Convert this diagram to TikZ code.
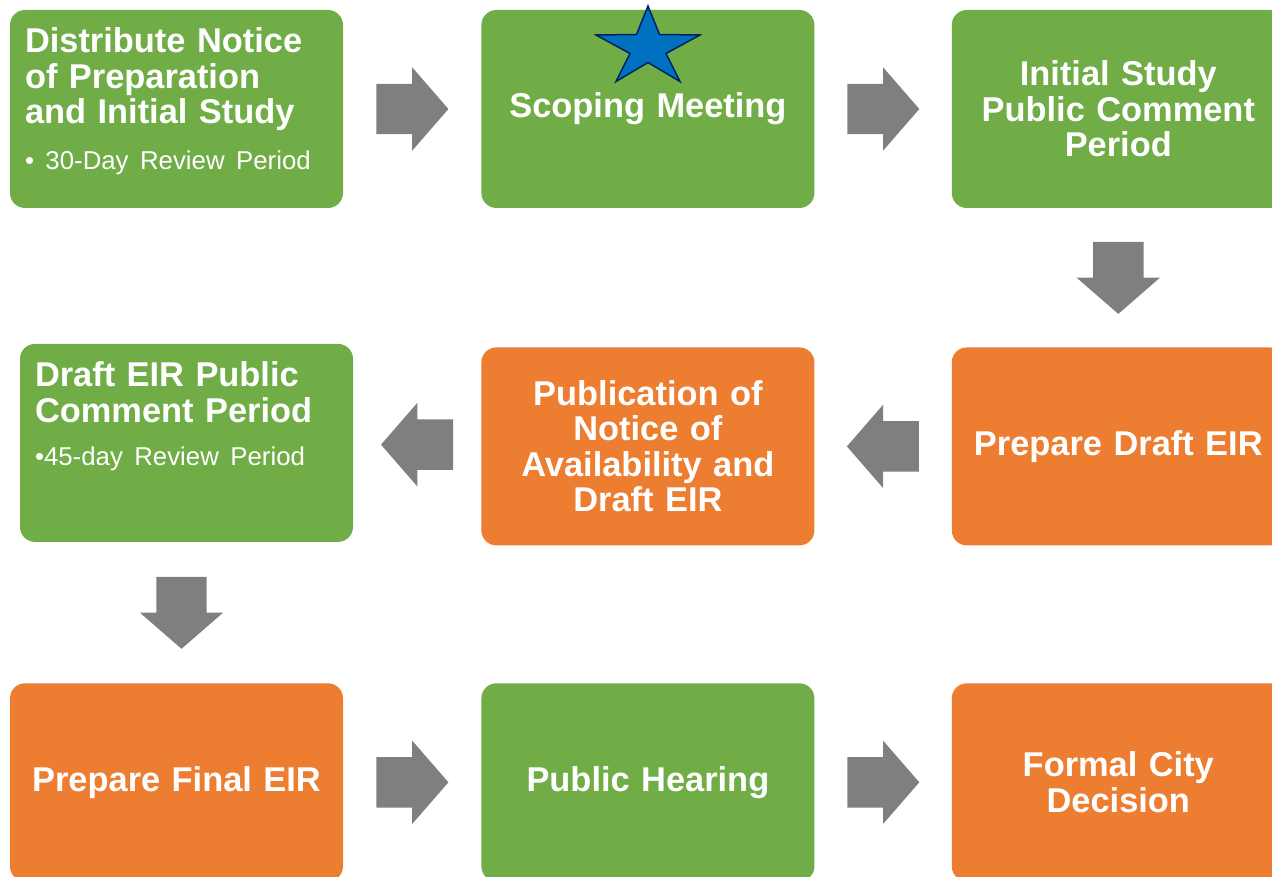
\documentclass[tikz,border=0pt]{standalone}
\usepackage{fontspec}
\setmainfont{Liberation Sans}
\usepackage{xcolor}
\usepackage{tikz}
\definecolor{ceqagreen}{HTML}{70AD47}
\definecolor{ceqaorange}{HTML}{ED7D31}
\definecolor{flowgray}{HTML}{7F7F7F}
\definecolor{starblue}{HTML}{0070C0}
\definecolor{starline}{HTML}{002060}
\tikzstyle{stage} = [rectangle, rounded corners=15pt, text=white,
    text width=303pt, inner xsep=15pt, inner ysep=0pt, minimum height=198pt,
    align=center, font=\fontsize{34.4}{35.5}\selectfont\bfseries]
\tikzstyle{greenstage} = [stage, fill=ceqagreen]
\tikzstyle{orangestage} = [stage, fill=ceqaorange]
\tikzstyle{notestage} = [greenstage, align=left, text height=43pt, text depth=155pt]
\tikzstyle{flow} = [single arrow, fill=flowgray, draw=none, inner sep=0pt,
    text height=25pt, text depth=25pt, minimum width=83pt, minimum height=72pt,
    single arrow head extend=16.5pt, single arrow tip angle=98, anchor=tail]
\newcommand{\reviewfont}{\mdseries\fontsize{25.8}{28}\selectfont}
\usetikzlibrary{calc}
\usetikzlibrary{positioning}
\usetikzlibrary{shapes.arrows}

\begin{document}
\begin{tikzpicture}[x=1pt,y=-1pt]
    \useasboundingbox (0,0) rectangle (1272,877);
    \clip (0,0) rectangle (1272,877);

    \node[notestage] (notice) at (176.5,109) {Distribute Notice\\ of Preparation\\ and Initial Study\\[10pt] {\reviewfont • 30-Day Review Period}};
    \node[greenstage, right=138pt of notice] (scoping) {Scoping Meeting};
    \node[greenstage, right=137pt of scoping] (isperiod) {Initial Study\\ Public Comment\\ Period};

    \node[orangestage, below=139pt of isperiod] (draft) {Prepare Draft EIR};
    \node[orangestage, left=137pt of draft] (notavail) {Publication of\\ Notice of\\ Availability and\\ Draft EIR};
    \node[notestage, left=128pt of notavail, yshift=3.5pt] (eirperiod) {Draft EIR Public\\ Comment Period\\[8pt] {\reviewfont •45-day Review Period}};

    \node[orangestage, below=141pt of eirperiod, xshift=-10pt] (finaleir) {Prepare Final EIR};
    \node[greenstage, right=138pt of finaleir] (hearing) {Public Hearing};
    \node[orangestage, right=137pt of hearing] (decision) {Formal City\\ Decision};

    \node[flow] (n2s) at ($(notice.east)!.5!(scoping.west)+(-36,0)$) {};
    \node[flow] (s2i) at ($(scoping.east)!.5!(isperiod.west)+(-36,0)$) {};
    \node[flow, rotate=270] (i2d) at ($(isperiod.south)!.5!(draft.north)+(0,-36)$) {};
    \node[flow, rotate=180] (d2n) at ($(draft.west)!.5!(notavail.east)+(36,0)$) {};
    \node[flow, rotate=180] (n2e) at ($(notavail.west)!.5!(eirperiod.east)+(36,0)$) {};
    \node[flow, rotate=270] (e2f) at ($(eirperiod.south)!.5!(finaleir.north)+(0,-36)$) {};
    \node[flow] (f2h) at ($(finaleir.east)!.5!(hearing.west)+(-36,0)$) {};
    \node[flow] (h2d) at ($(hearing.east)!.5!(decision.west)+(-36,0)$) {};

    \draw[fill=starblue, draw=starline, line width=1.5pt] (648,6) -- (659.5,34.5) -- (700,35) -- (666,53.5) -- (680,81.5) -- (648,62.5)
        -- (616,81.5) -- (630,53.5) -- (596,35) -- (636.5,34.5) -- cycle;
\end{tikzpicture}
\end{document}
